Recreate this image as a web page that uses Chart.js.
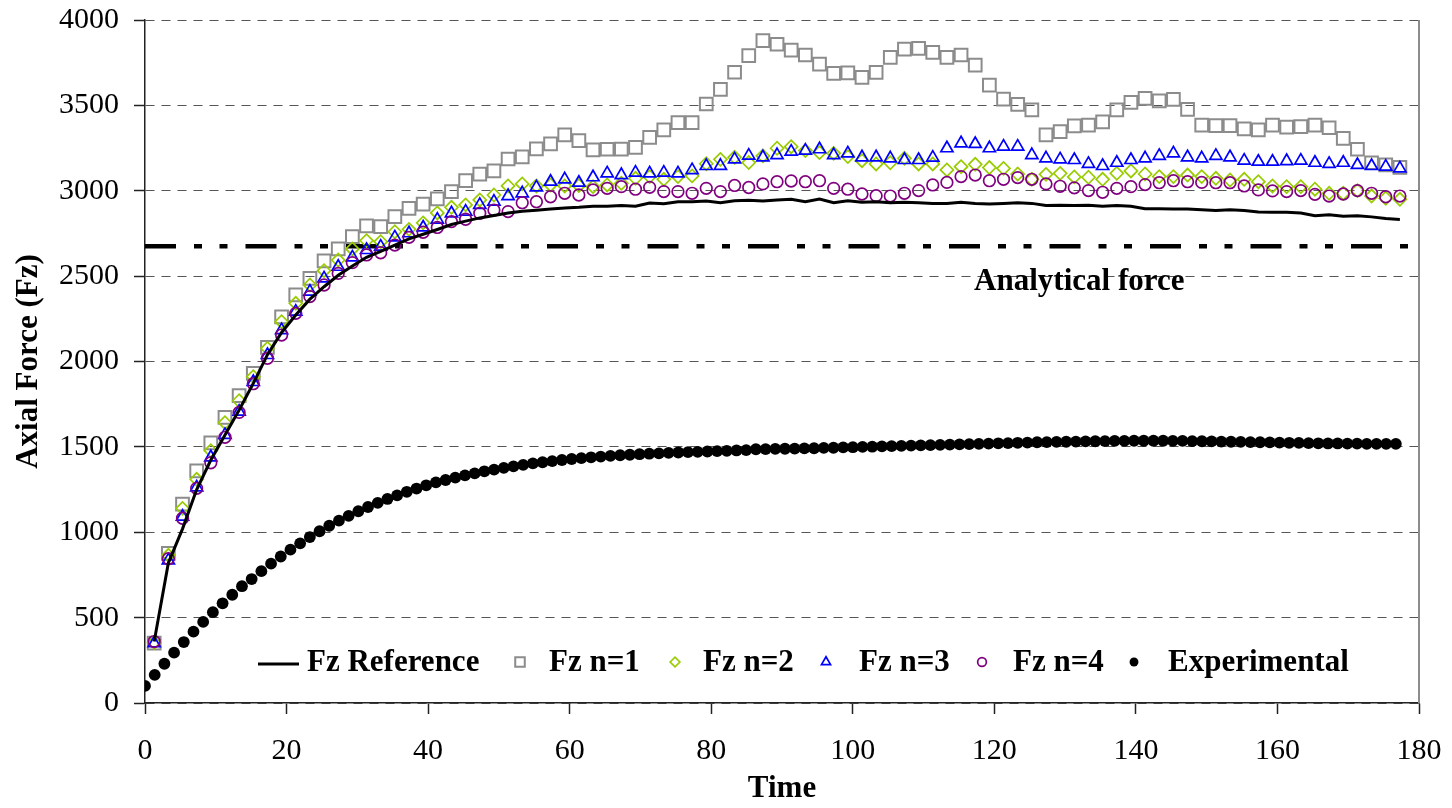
<!DOCTYPE html>
<html>
<head>
<meta charset="utf-8">
<title>Axial Force vs Time</title>
<script src="https://cdn.jsdelivr.net/npm/chart.js@4.4.1/dist/chart.umd.min.js"></script>
<style>
  html, body { margin: 0; padding: 0; background: #fff; }
  #wrap { width: 1452px; height: 808px; }
</style>
</head>
<body>
<div id="wrap"><canvas id="chart-force" width="1452" height="808"></canvas></div>
<script>
// sample times of the simulations (every 2 s)
var SIM_TIME = [
  1.3, 3.3, 5.3, 7.3, 9.3, 11.3, 13.3, 15.3, 17.3, 19.3,
  21.3, 23.3, 25.3, 27.3, 29.3, 31.3, 33.3, 35.3, 37.3, 39.3,
  41.3, 43.3, 45.3, 47.3, 49.3, 51.3, 53.3, 55.3, 57.3, 59.3,
  61.3, 63.3, 65.3, 67.3, 69.3, 71.3, 73.3, 75.3, 77.3, 79.3,
  81.3, 83.3, 85.3, 87.3, 89.3, 91.3, 93.3, 95.3, 97.3, 99.3,
  101.3, 103.3, 105.3, 107.3, 109.3, 111.3, 113.3, 115.3, 117.3, 119.3,
  121.3, 123.3, 125.3, 127.3, 129.3, 131.3, 133.3, 135.3, 137.3, 139.3,
  141.3, 143.3, 145.3, 147.3, 149.3, 151.3, 153.3, 155.3, 157.3, 159.3,
  161.3, 163.3, 165.3, 167.3, 169.3, 171.3, 173.3, 175.3, 177.3
];

var FZ_REFERENCE = [
  360, 820, 1020, 1250, 1423, 1570, 1716, 1872, 2040, 2170,
  2272, 2365, 2438, 2505, 2559, 2610, 2645, 2682, 2718, 2745,
  2773, 2802, 2822, 2841, 2855, 2870, 2880, 2886, 2893, 2899,
  2903, 2909, 2909, 2913, 2909, 2928, 2924, 2936, 2936, 2940,
  2930, 2942, 2944, 2940, 2946, 2950, 2936, 2952, 2930, 2942,
  2932, 2936, 2930, 2932, 2930, 2926, 2926, 2932, 2926, 2922,
  2926, 2930, 2926, 2913, 2915, 2913, 2915, 2909, 2913, 2909,
  2895, 2895, 2893, 2893, 2889, 2885, 2889, 2885, 2876, 2874,
  2874, 2870, 2854, 2860, 2850, 2854, 2847, 2837, 2831
];

var FZ_N1 = [
  350, 876, 1165, 1360, 1524, 1673, 1800, 1931, 2083, 2262,
  2390, 2487, 2589, 2659, 2731, 2794, 2790, 2848, 2897, 2922,
  2952, 2995, 3059, 3098, 3117, 3186, 3199, 3245, 3274, 3327,
  3293, 3239, 3243, 3244, 3254, 3313, 3356, 3399, 3399, 3508,
  3594, 3694, 3791, 3879, 3858, 3824, 3795, 3742, 3688, 3691,
  3664, 3693, 3781, 3830, 3834, 3810, 3781, 3795, 3736, 3619,
  3537, 3506, 3473, 3327, 3346, 3380, 3385, 3404, 3473, 3518,
  3541, 3527, 3535, 3477, 3385, 3381, 3381, 3362, 3356, 3385,
  3372, 3375, 3385, 3369, 3307, 3243, 3164, 3151, 3137
];

var FZ_N2 = [
  355, 865, 1140, 1310, 1478, 1642, 1770, 1911, 2077, 2233,
  2341, 2448, 2532, 2594, 2659, 2708, 2702, 2760, 2774, 2812,
  2870, 2903, 2917, 2946, 2975, 3028, 3040, 3028, 3034, 3028,
  3030, 3024, 3034, 3044, 3073, 3083, 3067, 3083, 3087, 3158,
  3184, 3196, 3165, 3204, 3249, 3258, 3235, 3223, 3219, 3200,
  3176, 3157, 3164, 3190, 3157, 3157, 3122, 3141, 3155, 3136,
  3131, 3098, 3067, 3096, 3102, 3081, 3079, 3067, 3102, 3116,
  3098, 3083, 3083, 3092, 3083, 3073, 3063, 3067, 3053, 3028,
  3024, 3024, 3009, 2985, 2985, 3001, 2969, 2956, 2950
];

var FZ_N3 = [
  350, 835, 1091, 1263, 1439, 1570, 1706, 1880, 2038, 2184,
  2292, 2409, 2487, 2555, 2610, 2653, 2673, 2727, 2751, 2785,
  2831, 2868, 2878, 2917, 2936, 2969, 2985, 3020, 3053, 3067,
  3047, 3079, 3102, 3092, 3106, 3102, 3106, 3102, 3121, 3145,
  3146, 3184, 3206, 3196, 3209, 3229, 3235, 3243, 3209, 3219,
  3196, 3196, 3190, 3180, 3180, 3194, 3249, 3278, 3274, 3249,
  3258, 3258, 3209, 3190, 3184, 3180, 3157, 3145, 3164, 3180,
  3190, 3204, 3219, 3196, 3190, 3204, 3196, 3176, 3170, 3170,
  3174, 3176, 3164, 3157, 3164, 3151, 3145, 3141, 3131
];

var FZ_N4 = [
  360, 845, 1082, 1257, 1407, 1556, 1702, 1870, 2019, 2155,
  2282, 2380, 2448, 2516, 2579, 2624, 2637, 2682, 2727, 2757,
  2785, 2819, 2833, 2868, 2887, 2878, 2930, 2936, 2965, 2985,
  2975, 3005, 3014, 3024, 3009, 3020, 2995, 2995, 2985, 3014,
  2995, 3031, 3019, 3040, 3053, 3057, 3053, 3059, 3014, 3009,
  2981, 2971, 2969, 2985, 3001, 3034, 3049, 3083, 3092, 3059,
  3067, 3077, 3067, 3040, 3026, 3017, 3001, 2991, 3014, 3024,
  3036, 3047, 3059, 3053, 3049, 3047, 3047, 3028, 3005, 2999,
  2995, 3001, 2979, 2969, 2981, 3001, 2985, 2965, 2969
];

// measured axial force, logged every 1.37 s
var EXP_TIME = [
  0, 1.37, 2.74, 4.11, 5.48, 6.85, 8.22, 9.59, 10.96, 12.33,
  13.7, 15.07, 16.44, 17.81, 19.18, 20.55, 21.92, 23.29, 24.66, 26.03,
  27.4, 28.77, 30.14, 31.51, 32.88, 34.25, 35.62, 36.99, 38.36, 39.73,
  41.1, 42.47, 43.84, 45.21, 46.58, 47.95, 49.32, 50.69, 52.06, 53.43,
  54.8, 56.17, 57.54, 58.91, 60.28, 61.65, 63.02, 64.39, 65.76, 67.13,
  68.5, 69.87, 71.24, 72.61, 73.98, 75.35, 76.72, 78.09, 79.46, 80.83,
  82.2, 83.57, 84.94, 86.31, 87.68, 89.05, 90.42, 91.79, 93.16, 94.53,
  95.9, 97.27, 98.64, 100.01, 101.38, 102.75, 104.12, 105.49, 106.86, 108.23,
  109.6, 110.97, 112.34, 113.71, 115.08, 116.45, 117.82, 119.19, 120.56, 121.93,
  123.3, 124.67, 126.04, 127.41, 128.78, 130.15, 131.52, 132.89, 134.26, 135.63,
  137, 138.37, 139.74, 141.11, 142.48, 143.85, 145.22, 146.59, 147.96, 149.33,
  150.7, 152.07, 153.44, 154.81, 156.18, 157.55, 158.92, 160.29, 161.66, 163.03,
  164.4, 165.77, 167.14, 168.51, 169.88, 171.25, 172.62, 173.99, 175.36, 176.73
];

var EXPERIMENTAL = [
  100, 165, 230, 295, 357, 418, 475, 532, 584, 634,
  684, 726, 772, 816, 858, 898, 935, 972, 1006, 1038,
  1068, 1096, 1123, 1148, 1172, 1195, 1216, 1237, 1256, 1275,
  1292, 1306, 1320, 1333, 1345, 1357, 1367, 1377, 1386, 1395,
  1403, 1410, 1417, 1423, 1429, 1434, 1439, 1443, 1447, 1451,
  1454, 1457, 1460, 1462, 1465, 1467, 1469, 1471, 1473, 1475,
  1477, 1479, 1481, 1486, 1487, 1488, 1489, 1490, 1491, 1492,
  1494, 1495, 1497, 1498, 1500, 1501, 1503, 1504, 1506, 1507,
  1509, 1510, 1512, 1513, 1515, 1516, 1518, 1519, 1521, 1522,
  1524, 1525, 1527, 1528, 1529, 1530, 1531, 1532, 1533, 1534,
  1535, 1535, 1536, 1536, 1536, 1536, 1535, 1535, 1534, 1533,
  1532, 1531, 1530, 1529, 1528, 1527, 1526, 1525, 1524, 1523,
  1522, 1521, 1520, 1520, 1519, 1519, 1518, 1518, 1518, 1518
];

var ANALYTICAL_FORCE = 2675;
var ANALYTICAL_SPAN = [0, 180];

var X_TICKS = [0, 20, 40, 60, 80, 100, 120, 140, 160, 180];
var Y_TICKS = [0, 500, 1000, 1500, 2000, 2500, 3000, 3500, 4000];

(function () {
  "use strict";

  var SERIF = "'Liberation Serif', 'Times New Roman', serif";
  var BOLD = "bold 31px " + SERIF;

  function pairs(xs, ys) {
    return xs.map(function (x, i) { return { x: x, y: ys[i] }; });
  }

  function useTicks(values) {
    return function (scale) {
      scale.ticks = values.map(function (v) { return { value: v }; });
    };
  }

  function plainNumber(v) {
    return String(v);
  }

  var markerSet = function (label, data, style, color, radius, width, order) {
    return {
      label: label,
      data: pairs(SIM_TIME, data),
      showLine: false,
      pointStyle: style,
      pointRadius: radius,
      pointBorderWidth: width,
      pointBorderColor: color,
      pointBackgroundColor: "rgba(0,0,0,0)",
      borderColor: color,
      order: order,
    };
  };

  // frame line on the right, analytical label and the in-plot legend
  var decorations = {
    id: "decorations",
    afterDatasetsDraw: function (chart) {
      var ctx = chart.ctx;
      var area = chart.chartArea;
      var xs = chart.scales.x;
      var ys = chart.scales.y;

      ctx.save();
      ctx.strokeStyle = "#8c8c8c";
      ctx.lineWidth = 2;
      ctx.beginPath();
      ctx.moveTo(area.right, area.top);
      ctx.lineTo(area.right, area.bottom);
      ctx.stroke();

      ctx.fillStyle = "#000";
      ctx.font = BOLD;
      ctx.textAlign = "center";
      ctx.textBaseline = "middle";
      ctx.fillText("Analytical force", xs.getPixelForValue(132), ys.getPixelForValue(ANALYTICAL_FORCE) + 36);

      // legend row
      var rowY = 662;
      var baseY = 671;
      ctx.textAlign = "left";
      ctx.textBaseline = "alphabetic";

      ctx.strokeStyle = "#000";
      ctx.lineWidth = 3;
      ctx.beginPath();
      ctx.moveTo(258, rowY + 2);
      ctx.lineTo(299, rowY + 2);
      ctx.stroke();
      ctx.fillText("Fz Reference", 307, baseY);

      var slots = [
        { ds: 1, marker: 520, text: 549 },
        { ds: 2, marker: 675, text: 703 },
        { ds: 3, marker: 826, text: 859 },
        { ds: 4, marker: 982, text: 1013 },
        { ds: 5, marker: 1134, text: 1168 },
      ];
      slots.forEach(function (s) {
        var d = chart.data.datasets[s.ds];
        ctx.save();
        ctx.strokeStyle = d.pointBorderColor;
        ctx.fillStyle = d.pointBackgroundColor;
        ctx.lineWidth = d.pointBorderWidth;
        Chart.helpers.drawPoint(ctx, {
          pointStyle: d.pointStyle,
          radius: d.pointRadius * 0.75,
          borderWidth: d.pointBorderWidth,
          rotation: 0,
        }, s.marker, rowY);
        ctx.restore();
        ctx.fillStyle = "#000";
        ctx.fillText(d.label, s.text, baseY);
      });
      ctx.restore();
    },
  };

  function boot() {
    var canvas = document.getElementById("chart-force");
    if (!canvas || typeof Chart === "undefined") return;
    Chart.defaults.font.family = SERIF;
    Chart.defaults.color = "#000";

    new Chart(canvas.getContext("2d"), {
      type: "line",
      data: {
        datasets: [
          {
            label: "Fz Reference",
            data: pairs(SIM_TIME, FZ_REFERENCE),
            borderColor: "#000",
            borderWidth: 3,
            pointRadius: 0,
            tension: 0,
            order: 1,
          },
          markerSet("Fz n=1", FZ_N1, "rect", "#8c8c8c", 9, 2, 5),
          markerSet("Fz n=2", FZ_N2, "rectRot", "#99cc00", 6.5, 1.7, 4),
          markerSet("Fz n=3", FZ_N3, "triangle", "#0000ff", 7, 1.7, 3),
          markerSet("Fz n=4", FZ_N4, "circle", "#800080", 5.8, 1.7, 2),
          {
            label: "Experimental",
            data: pairs(EXP_TIME, EXPERIMENTAL),
            showLine: false,
            pointStyle: "circle",
            pointRadius: 5.9,
            pointBorderWidth: 0,
            pointBorderColor: "#000",
            pointBackgroundColor: "#000",
            order: 0,
          },
          {
            label: "Analytical force",
            data: pairs(ANALYTICAL_SPAN, [ANALYTICAL_FORCE, ANALYTICAL_FORCE]),
            borderColor: "#000",
            borderWidth: 4.5,
            borderDash: [31, 18, 8, 17.5, 8, 18],
            pointRadius: 0,
            order: 6,
          },
        ],
      },
      options: {
        responsive: false,
        animation: false,
        events: [],
        layout: { padding: { top: 20, right: 33, bottom: 0, left: 0 } },
        plugins: {
          legend: { display: false },
          tooltip: { enabled: false },
        },
        scales: {
          x: {
            type: "linear",
            min: 0,
            max: 180,
            afterBuildTicks: useTicks(X_TICKS),
            afterFit: function (scale) {
              scale.height = 105;
              scale.paddingLeft = 0;
              scale.paddingRight = 0;
            },
            grid: { drawOnChartArea: false, tickLength: 11, tickColor: "#222", tickWidth: 1.5 },
            border: { color: "#222", width: 1.5 },
            ticks: { font: { size: 30 }, padding: 19, maxRotation: 0, callback: plainNumber },
            title: { display: true, text: "Time", font: { size: 31, weight: "bold" }, padding: { top: 0, bottom: 0 } },
          },
          y: {
            type: "linear",
            min: 0,
            max: 4000,
            afterBuildTicks: useTicks(Y_TICKS),
            afterFit: function (scale) {
              scale.width = 145;
              scale.paddingTop = 0;
              scale.paddingBottom = 0;
            },
            grid: { color: "#555", lineWidth: 1, tickLength: 11, tickColor: "#222", tickWidth: 1.5 },
            border: { color: "#222", width: 1.5, dash: [9, 7] },
            ticks: { font: { size: 30 }, padding: 15, callback: plainNumber },
            title: { display: true, text: "Axial Force (Fz)", font: { size: 31, weight: "bold" }, padding: { top: 10, bottom: 0 } },
          },
        },
      },
      plugins: [decorations],
    });
  }

  if (document.readyState === "loading") {
    document.addEventListener("DOMContentLoaded", boot);
  } else {
    boot();
  }
})();
</script>
</body>
</html>
